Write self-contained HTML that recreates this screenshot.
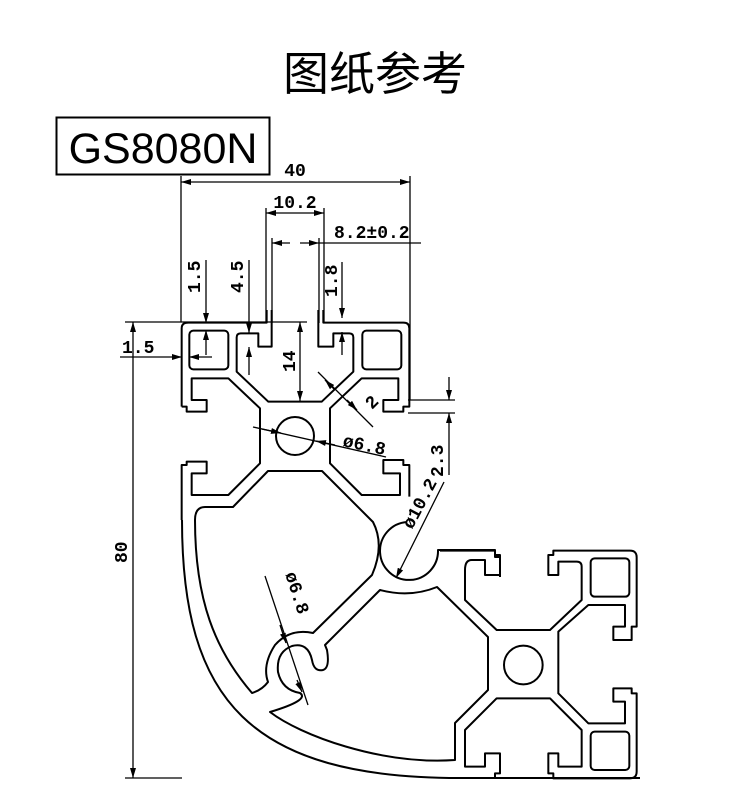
<!DOCTYPE html>
<html><head><meta charset="utf-8"><style>
html,body{margin:0;padding:0;background:#fff}
svg{display:block}
text{font-family:"Liberation Mono","Noto Sans CJK SC",monospace;font-weight:bold;fill:#000}
</style></head><body>
<svg width="750" height="800" viewBox="0 0 750 800" xmlns="http://www.w3.org/2000/svg">
<defs>
<marker id="a" viewBox="0 0 10 6" refX="10" refY="3" markerWidth="10" markerHeight="6" orient="auto-start-reverse" markerUnits="userSpaceOnUse"><path d="M0,0 L10,3 L0,6 z" fill="#000"/></marker>
</defs>
<text x="375" y="90" text-anchor="middle" font-size="46" style="font-weight:normal;font-family:'Noto Sans CJK SC',sans-serif">图纸参考</text>
<rect x="56.5" y="117.5" width="213" height="57" fill="none" stroke="#000" stroke-width="2"/>
<text x="163" y="163" text-anchor="middle" font-size="43" style="font-weight:normal;font-family:'Liberation Sans',sans-serif">GS8080N</text>

<g fill="none" stroke="#000" stroke-width="2" stroke-linejoin="round">
<g transform="translate(170,310) scale(0.33333)" stroke-width="6">
<path d="M35,290 L35,55 Q35,38 55,38 L290,38 L290,0 M305,0 L305,110 L265,110 L265,70 L212,70 Q200,70 200,82 L200,185 L295,275 L455,275 L550,185 L550,82 Q550,70 538,70 L490,70 L490,110 L445,110 L445,0 M460,0 L460,38 L700,38 Q718,38 718,55 L718,290 L700,290 L700,305 L640,305 L640,270 L685,270 L685,205 L575,205 L480,295 L480,460 L575,555 L690,555 L690,490 L640,490 L640,450 L700,450 L700,465 L718,465 L718,560"/>
<path d="M35,290 L50,290 L50,305 L110,305 L110,270 L65,270 L65,205 L175,205 L270,295 L270,460 L175,555 L65,555 L65,490 L110,490 L110,455 L50,455 L50,465 L35,465 L35,630"/>
<rect x="58" y="62" width="117" height="116" rx="12"/>
<rect x="577" y="62" width="117" height="116" rx="12"/>
<circle cx="375" cy="378" r="57"/>
</g>
<path d="M195,520 Q195,507 205,507 L233,507 L268,471 L322,471 L373,522 Q385,545 372,575 L313,633 Q290,628 275,645 Q262,665 268,682 Q262,690 252,693 C215,650 195,600 195,520 Z"/>
<path d="M182,520 C182,700 250,778 460,778 L640,778"/>
<path d="M407,522 A29,29 0 1 0 438,550 L495,550 L495,557 L500,557 L500,577"/>
<path d="M270,712 Q310,700 300,693 Q282,690 278,672 Q276,652 292,646 Q308,642 312,660 Q314,672 323,670 Q330,668 327,650 L325,645 L380,590 Q410,598 437,587 L488,637 L488,690 L455,723 L455,760 C380,765 300,735 270,712 Z"/>
<g transform="translate(170,530) scale(0.33333)" stroke-width="6">
<path d="M885,120 Q885,90 905,90 L945,90 L945,135 L990,135 L990,75 L975,75 L975,62 L810,62"/>
<path d="M885,120 L885,210 L980,300 L1140,300 L1235,210 L1235,110 Q1235,95 1220,95 L1165,95 L1165,135 L1135,135 L1135,75 L1150,75 L1150,62 L1380,62 Q1400,62 1400,82 L1400,290 L1385,290 L1385,330 L1330,330 L1330,290 L1365,290 L1365,225 L1255,225 L1165,305 L1165,490 L1255,580 L1365,580 L1365,515 L1330,515 L1330,475 L1385,475 L1385,490 L1400,490 L1400,725 Q1400,745 1380,745 L1150,745 L1150,730 L1135,730 L1135,670 L1165,670 L1165,710 L1235,710 L1235,600 L1140,505 L980,505 L885,600 L885,710 L945,710 L945,670 L990,670 L990,730 L975,730 L975,745"/>
<rect x="1262" y="85" width="116" height="115" rx="12"/>
<rect x="1262" y="605" width="116" height="115" rx="12"/>
<circle cx="1060" cy="405" r="58"/>
</g>
</g>

<g stroke="#000" stroke-width="1.3" fill="none">
<path d="M181,176 V322 M410,176 V400"/>
<line x1="181" y1="182" x2="410" y2="182" marker-start="url(#a)" marker-end="url(#a)"/>
<path d="M266,208 V323 M324,208 V323"/>
<line x1="266" y1="213" x2="324" y2="213" marker-start="url(#a)" marker-end="url(#a)"/>
<path d="M272,238 V323 M319,238 V323"/>
<line x1="290" y1="243" x2="272" y2="243" marker-end="url(#a)"/>
<line x1="300" y1="243" x2="319" y2="243" marker-end="url(#a)"/>
<line x1="319" y1="243" x2="421" y2="243"/>
<line x1="206" y1="260" x2="206" y2="323" marker-end="url(#a)"/>
<line x1="206" y1="355" x2="206" y2="330" marker-end="url(#a)"/>
<line x1="249" y1="260" x2="249" y2="333" marker-end="url(#a)"/>
<line x1="249" y1="375" x2="249" y2="347" marker-end="url(#a)"/>
<line x1="342" y1="262" x2="342" y2="318" marker-end="url(#a)"/>
<line x1="342" y1="355" x2="342" y2="332" marker-end="url(#a)"/>
<line x1="125" y1="322" x2="307" y2="322"/>
<line x1="120" y1="357" x2="182" y2="357" marker-end="url(#a)"/>
<line x1="212" y1="357" x2="189" y2="357" marker-end="url(#a)"/>
<line x1="300" y1="322" x2="300" y2="401" marker-start="url(#a)" marker-end="url(#a)"/>
<line x1="133" y1="322" x2="133" y2="778" marker-start="url(#a)" marker-end="url(#a)"/>
<line x1="125" y1="778" x2="182" y2="778"/>
<line x1="318" y1="372" x2="373" y2="427"/>
<line x1="335" y1="390" x2="325" y2="380" marker-end="url(#a)"/>
<line x1="347" y1="400" x2="357" y2="410" marker-end="url(#a)"/>
<line x1="253" y1="427" x2="386" y2="457"/>
<line x1="262" y1="429" x2="281" y2="433" marker-end="url(#a)"/>
<line x1="335" y1="445" x2="316" y2="441" marker-end="url(#a)"/>
<line x1="408" y1="400" x2="455" y2="400"/>
<line x1="408" y1="413" x2="455" y2="413"/>
<line x1="449" y1="377" x2="449" y2="400" marker-end="url(#a)"/>
<line x1="449" y1="475" x2="449" y2="413" marker-end="url(#a)"/>
<line x1="444" y1="482" x2="396" y2="578" marker-end="url(#a)"/>
<line x1="265" y1="576" x2="308" y2="705"/>
<line x1="280" y1="625" x2="286" y2="643" marker-end="url(#a)"/>
<line x1="297" y1="680" x2="302" y2="692" marker-end="url(#a)"/>
</g>

<g font-size="18">
<text x="295" y="176" text-anchor="middle">40</text>
<text x="295" y="208" text-anchor="middle">10.2</text>
<text x="334" y="238">8.2±0.2</text>
<text x="122" y="353">1.5</text>
<text transform="translate(200,293) rotate(-90)">1.5</text>
<text transform="translate(243,293) rotate(-90)">4.5</text>
<text transform="translate(337,297) rotate(-90)">1.8</text>
<text transform="translate(295,372) rotate(-90)">14</text>
<text transform="translate(127,563) rotate(-90)">80</text>
<text transform="translate(443,477) rotate(-90)">2.3</text>
<text transform="translate(372,410) rotate(-45)">2</text>
<text transform="translate(342,446) rotate(12)">ø6.8</text>
<text transform="translate(412,530) rotate(-62)">ø10.2</text>
<text transform="translate(285,574) rotate(72)">ø6.8</text>
</g>
</svg>
</body></html>
